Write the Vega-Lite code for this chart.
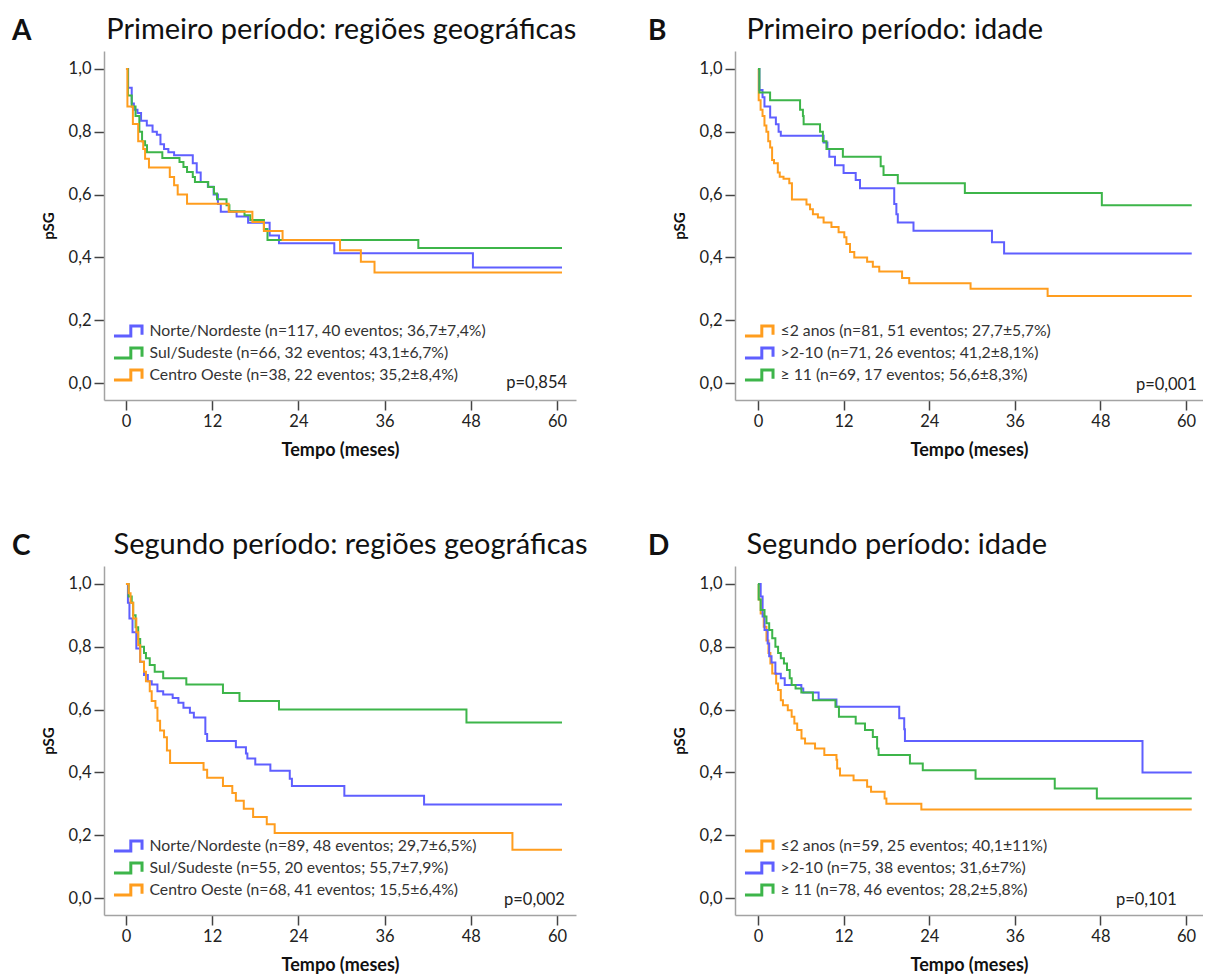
{
  "$schema": "https://vega.github.io/schema/vega-lite/v6.json",
  "padding": {"left": 12, "top": 16, "right": 0, "bottom": 0},
  "autosize": {"type": "pad"},
  "background": "white",
  "datasets": {
    "grupos": [
      {"g": "A1", "label": "Norte/Nordeste (n=117, 40 eventos; 36,7±7,4%)"},
      {"g": "A2", "label": "Sul/Sudeste (n=66, 32 eventos; 43,1±6,7%)"},
      {"g": "A3", "label": "Centro Oeste (n=38, 22 eventos; 35,2±8,4%)"},
      {"g": "B1", "label": "≤2 anos (n=81, 51 eventos; 27,7±5,7%)"},
      {"g": "B2", "label": ">2-10 (n=71, 26 eventos; 41,2±8,1%)"},
      {"g": "B3", "label": "≥ 11 (n=69, 17 eventos; 56,6±8,3%)"},
      {"g": "C1", "label": "Norte/Nordeste (n=89, 48 eventos; 29,7±6,5%)"},
      {"g": "C2", "label": "Sul/Sudeste (n=55, 20 eventos; 55,7±7,9%)"},
      {"g": "C3", "label": "Centro Oeste (n=68, 41 eventos; 15,5±6,4%)"},
      {"g": "D1", "label": "≤2 anos (n=59, 25 eventos; 40,1±11%)"},
      {"g": "D2", "label": ">2-10 (n=75, 38 eventos; 31,6±7%)"},
      {"g": "D3", "label": "≥ 11 (n=78, 46 eventos; 28,2±5,8%)"}
    ],
    "pvalor": [
      {"p": "A", "label": "p=0,854"},
      {"p": "B", "label": "p=0,001"},
      {"p": "C", "label": "p=0,002"},
      {"p": "D", "label": "p=0,101"}
    ],
    "km": [
      {"p":"A","g":"A1","t":0,"s":1},{"p":"A","g":"A1","t":0.3,"s":0.94},{"p":"A","g":"A1","t":0.8,"s":0.89},{"p":"A","g":"A1","t":1.1,"s":0.87},{"p":"A","g":"A1","t":1.6,"s":0.86},{"p":"A","g":"A1","t":2.1,"s":0.835},{"p":"A","g":"A1","t":2.9,"s":0.82},{"p":"A","g":"A1","t":3.7,"s":0.8},{"p":"A","g":"A1","t":4.3,"s":0.79},{"p":"A","g":"A1","t":4.8,"s":0.76},{"p":"A","g":"A1","t":5.3,"s":0.745},{"p":"A","g":"A1","t":5.9,"s":0.735},{"p":"A","g":"A1","t":6.7,"s":0.725},{"p":"A","g":"A1","t":9.3,"s":0.7},{"p":"A","g":"A1","t":9.85,"s":0.67},{"p":"A","g":"A1","t":10.4,"s":0.64},{"p":"A","g":"A1","t":11.4,"s":0.625},{"p":"A","g":"A1","t":12.2,"s":0.6},{"p":"A","g":"A1","t":12.8,"s":0.57},{"p":"A","g":"A1","t":13.2,"s":0.545},{"p":"A","g":"A1","t":15.4,"s":0.53},{"p":"A","g":"A1","t":17.0,"s":0.51},{"p":"A","g":"A1","t":20.0,"s":0.47},{"p":"A","g":"A1","t":21.3,"s":0.445},{"p":"A","g":"A1","t":29.0,"s":0.413},{"p":"A","g":"A1","t":48.3,"s":0.368},{"p":"A","g":"A1","t":60.7,"s":0.368},
      {"p":"A","g":"A2","t":0,"s":1},{"p":"A","g":"A2","t":0.27,"s":0.915},{"p":"A","g":"A2","t":0.8,"s":0.88},{"p":"A","g":"A2","t":1.33,"s":0.85},{"p":"A","g":"A2","t":1.86,"s":0.8},{"p":"A","g":"A2","t":2.24,"s":0.77},{"p":"A","g":"A2","t":2.66,"s":0.757},{"p":"A","g":"A2","t":2.93,"s":0.735},{"p":"A","g":"A2","t":5.06,"s":0.716},{"p":"A","g":"A2","t":7.45,"s":0.704},{"p":"A","g":"A2","t":8.0,"s":0.688},{"p":"A","g":"A2","t":8.5,"s":0.672},{"p":"A","g":"A2","t":9.3,"s":0.656},{"p":"A","g":"A2","t":9.6,"s":0.64},{"p":"A","g":"A2","t":11.45,"s":0.624},{"p":"A","g":"A2","t":12.25,"s":0.603},{"p":"A","g":"A2","t":12.67,"s":0.585},{"p":"A","g":"A2","t":14.0,"s":0.566},{"p":"A","g":"A2","t":14.4,"s":0.547},{"p":"A","g":"A2","t":16.5,"s":0.534},{"p":"A","g":"A2","t":17.3,"s":0.519},{"p":"A","g":"A2","t":19.2,"s":0.49},{"p":"A","g":"A2","t":19.7,"s":0.455},{"p":"A","g":"A2","t":40.7,"s":0.43},{"p":"A","g":"A2","t":60.7,"s":0.43},
      {"p":"A","g":"A3","t":0,"s":1},{"p":"A","g":"A3","t":0.2,"s":0.88},{"p":"A","g":"A3","t":0.96,"s":0.825},{"p":"A","g":"A3","t":1.7,"s":0.77},{"p":"A","g":"A3","t":2.4,"s":0.745},{"p":"A","g":"A3","t":2.66,"s":0.714},{"p":"A","g":"A3","t":3.2,"s":0.686},{"p":"A","g":"A3","t":6.1,"s":0.656},{"p":"A","g":"A3","t":6.7,"s":0.63},{"p":"A","g":"A3","t":7.2,"s":0.6},{"p":"A","g":"A3","t":8.5,"s":0.571},{"p":"A","g":"A3","t":14.3,"s":0.545},{"p":"A","g":"A3","t":17.6,"s":0.513},{"p":"A","g":"A3","t":19.2,"s":0.484},{"p":"A","g":"A3","t":21.8,"s":0.455},{"p":"A","g":"A3","t":29.8,"s":0.423},{"p":"A","g":"A3","t":32.7,"s":0.386},{"p":"A","g":"A3","t":34.6,"s":0.352},{"p":"A","g":"A3","t":60.7,"s":0.352},
      {"p":"B","g":"B1","t":0,"s":1},{"p":"B","g":"B1","t":0.1,"s":0.9},{"p":"B","g":"B1","t":0.37,"s":0.87},{"p":"B","g":"B1","t":0.64,"s":0.85},{"p":"B","g":"B1","t":0.91,"s":0.82},{"p":"B","g":"B1","t":1.18,"s":0.8},{"p":"B","g":"B1","t":1.44,"s":0.77},{"p":"B","g":"B1","t":1.71,"s":0.75},{"p":"B","g":"B1","t":1.98,"s":0.71},{"p":"B","g":"B1","t":2.25,"s":0.7},{"p":"B","g":"B1","t":2.78,"s":0.67},{"p":"B","g":"B1","t":3.05,"s":0.657},{"p":"B","g":"B1","t":3.58,"s":0.65},{"p":"B","g":"B1","t":4.39,"s":0.636},{"p":"B","g":"B1","t":4.76,"s":0.584},{"p":"B","g":"B1","t":6.8,"s":0.568},{"p":"B","g":"B1","t":7.3,"s":0.553},{"p":"B","g":"B1","t":7.7,"s":0.537},{"p":"B","g":"B1","t":8.4,"s":0.527},{"p":"B","g":"B1","t":9.2,"s":0.511},{"p":"B","g":"B1","t":10.3,"s":0.497},{"p":"B","g":"B1","t":11.3,"s":0.48},{"p":"B","g":"B1","t":12.1,"s":0.464},{"p":"B","g":"B1","t":12.4,"s":0.443},{"p":"B","g":"B1","t":12.9,"s":0.417},{"p":"B","g":"B1","t":13.5,"s":0.4},{"p":"B","g":"B1","t":15.3,"s":0.386},{"p":"B","g":"B1","t":16.1,"s":0.37},{"p":"B","g":"B1","t":17.0,"s":0.355},{"p":"B","g":"B1","t":20.2,"s":0.334},{"p":"B","g":"B1","t":21.2,"s":0.318},{"p":"B","g":"B1","t":29.8,"s":0.3},{"p":"B","g":"B1","t":40.6,"s":0.277},{"p":"B","g":"B1","t":60.8,"s":0.277},
      {"p":"B","g":"B2","t":0,"s":1},{"p":"B","g":"B2","t":0.2,"s":0.933},{"p":"B","g":"B2","t":0.64,"s":0.91},{"p":"B","g":"B2","t":0.91,"s":0.88},{"p":"B","g":"B2","t":1.71,"s":0.845},{"p":"B","g":"B2","t":2.51,"s":0.824},{"p":"B","g":"B2","t":2.89,"s":0.8},{"p":"B","g":"B2","t":3.2,"s":0.787},{"p":"B","g":"B2","t":9.2,"s":0.766},{"p":"B","g":"B2","t":9.73,"s":0.745},{"p":"B","g":"B2","t":10.0,"s":0.72},{"p":"B","g":"B2","t":10.8,"s":0.693},{"p":"B","g":"B2","t":12.0,"s":0.669},{"p":"B","g":"B2","t":13.7,"s":0.646},{"p":"B","g":"B2","t":14.3,"s":0.62},{"p":"B","g":"B2","t":19.1,"s":0.57},{"p":"B","g":"B2","t":19.4,"s":0.537},{"p":"B","g":"B2","t":19.6,"s":0.511},{"p":"B","g":"B2","t":21.8,"s":0.485},{"p":"B","g":"B2","t":32.8,"s":0.448},{"p":"B","g":"B2","t":34.5,"s":0.412},{"p":"B","g":"B2","t":60.8,"s":0.412},
      {"p":"B","g":"B3","t":0,"s":1},{"p":"B","g":"B3","t":0.2,"s":0.925},{"p":"B","g":"B3","t":1.7,"s":0.9},{"p":"B","g":"B3","t":5.9,"s":0.87},{"p":"B","g":"B3","t":6.3,"s":0.85},{"p":"B","g":"B3","t":6.4,"s":0.824},{"p":"B","g":"B3","t":8.7,"s":0.8},{"p":"B","g":"B3","t":9.1,"s":0.77},{"p":"B","g":"B3","t":9.6,"s":0.745},{"p":"B","g":"B3","t":11.9,"s":0.72},{"p":"B","g":"B3","t":17.2,"s":0.69},{"p":"B","g":"B3","t":17.6,"s":0.662},{"p":"B","g":"B3","t":19.6,"s":0.636},{"p":"B","g":"B3","t":29.0,"s":0.605},{"p":"B","g":"B3","t":48.2,"s":0.566},{"p":"B","g":"B3","t":60.8,"s":0.566},
      {"p":"C","g":"C1","t":0,"s":1},{"p":"C","g":"C1","t":0.27,"s":0.94},{"p":"C","g":"C1","t":0.48,"s":0.89},{"p":"C","g":"C1","t":0.91,"s":0.846},{"p":"C","g":"C1","t":1.44,"s":0.794},{"p":"C","g":"C1","t":1.98,"s":0.752},{"p":"C","g":"C1","t":2.51,"s":0.71},{"p":"C","g":"C1","t":3.04,"s":0.69},{"p":"C","g":"C1","t":3.58,"s":0.68},{"p":"C","g":"C1","t":4.38,"s":0.658},{"p":"C","g":"C1","t":5.18,"s":0.648},{"p":"C","g":"C1","t":6.5,"s":0.637},{"p":"C","g":"C1","t":7.3,"s":0.622},{"p":"C","g":"C1","t":8.0,"s":0.606},{"p":"C","g":"C1","t":8.9,"s":0.59},{"p":"C","g":"C1","t":9.45,"s":0.575},{"p":"C","g":"C1","t":11.05,"s":0.522},{"p":"C","g":"C1","t":11.3,"s":0.5},{"p":"C","g":"C1","t":15.3,"s":0.48},{"p":"C","g":"C1","t":16.7,"s":0.46},{"p":"C","g":"C1","t":16.9,"s":0.444},{"p":"C","g":"C1","t":18.0,"s":0.425},{"p":"C","g":"C1","t":20.1,"s":0.405},{"p":"C","g":"C1","t":22.8,"s":0.38},{"p":"C","g":"C1","t":23.1,"s":0.357},{"p":"C","g":"C1","t":30.4,"s":0.326},{"p":"C","g":"C1","t":41.5,"s":0.298},{"p":"C","g":"C1","t":60.7,"s":0.298},
      {"p":"C","g":"C2","t":0,"s":1},{"p":"C","g":"C2","t":0.37,"s":0.96},{"p":"C","g":"C2","t":0.8,"s":0.94},{"p":"C","g":"C2","t":1.0,"s":0.9},{"p":"C","g":"C2","t":1.34,"s":0.862},{"p":"C","g":"C2","t":1.7,"s":0.825},{"p":"C","g":"C2","t":1.98,"s":0.8},{"p":"C","g":"C2","t":2.51,"s":0.78},{"p":"C","g":"C2","t":2.78,"s":0.763},{"p":"C","g":"C2","t":3.31,"s":0.742},{"p":"C","g":"C2","t":4.0,"s":0.72},{"p":"C","g":"C2","t":5.18,"s":0.7},{"p":"C","g":"C2","t":8.4,"s":0.68},{"p":"C","g":"C2","t":13.5,"s":0.653},{"p":"C","g":"C2","t":15.8,"s":0.627},{"p":"C","g":"C2","t":21.3,"s":0.6},{"p":"C","g":"C2","t":47.4,"s":0.559},{"p":"C","g":"C2","t":60.7,"s":0.559},
      {"p":"C","g":"C3","t":0,"s":1},{"p":"C","g":"C3","t":0.37,"s":0.97},{"p":"C","g":"C3","t":0.64,"s":0.94},{"p":"C","g":"C3","t":1.0,"s":0.89},{"p":"C","g":"C3","t":1.44,"s":0.846},{"p":"C","g":"C3","t":1.7,"s":0.805},{"p":"C","g":"C3","t":1.98,"s":0.752},{"p":"C","g":"C3","t":2.51,"s":0.72},{"p":"C","g":"C3","t":2.78,"s":0.69},{"p":"C","g":"C3","t":3.31,"s":0.658},{"p":"C","g":"C3","t":3.58,"s":0.627},{"p":"C","g":"C3","t":4.1,"s":0.606},{"p":"C","g":"C3","t":4.38,"s":0.564},{"p":"C","g":"C3","t":4.75,"s":0.533},{"p":"C","g":"C3","t":5.3,"s":0.512},{"p":"C","g":"C3","t":5.7,"s":0.47},{"p":"C","g":"C3","t":6.14,"s":0.43},{"p":"C","g":"C3","t":10.8,"s":0.408},{"p":"C","g":"C3","t":11.3,"s":0.383},{"p":"C","g":"C3","t":13.5,"s":0.357},{"p":"C","g":"C3","t":14.8,"s":0.334},{"p":"C","g":"C3","t":15.3,"s":0.31},{"p":"C","g":"C3","t":16.4,"s":0.284},{"p":"C","g":"C3","t":17.7,"s":0.258},{"p":"C","g":"C3","t":19.6,"s":0.235},{"p":"C","g":"C3","t":20.7,"s":0.207},{"p":"C","g":"C3","t":53.8,"s":0.154},{"p":"C","g":"C3","t":60.7,"s":0.154},
      {"p":"D","g":"D1","t":0,"s":1},{"p":"D","g":"D1","t":0.1,"s":0.95},{"p":"D","g":"D1","t":0.38,"s":0.906},{"p":"D","g":"D1","t":0.81,"s":0.864},{"p":"D","g":"D1","t":1.19,"s":0.82},{"p":"D","g":"D1","t":1.47,"s":0.78},{"p":"D","g":"D1","t":1.74,"s":0.747},{"p":"D","g":"D1","t":2.0,"s":0.715},{"p":"D","g":"D1","t":2.55,"s":0.683},{"p":"D","g":"D1","t":2.82,"s":0.662},{"p":"D","g":"D1","t":3.2,"s":0.63},{"p":"D","g":"D1","t":3.5,"s":0.614},{"p":"D","g":"D1","t":4.18,"s":0.598},{"p":"D","g":"D1","t":4.72,"s":0.577},{"p":"D","g":"D1","t":5.1,"s":0.556},{"p":"D","g":"D1","t":5.5,"s":0.535},{"p":"D","g":"D1","t":6.1,"s":0.508},{"p":"D","g":"D1","t":6.6,"s":0.492},{"p":"D","g":"D1","t":8.0,"s":0.476},{"p":"D","g":"D1","t":9.3,"s":0.455},{"p":"D","g":"D1","t":11.0,"s":0.44},{"p":"D","g":"D1","t":11.1,"s":0.412},{"p":"D","g":"D1","t":11.5,"s":0.39},{"p":"D","g":"D1","t":13.4,"s":0.375},{"p":"D","g":"D1","t":15.3,"s":0.354},{"p":"D","g":"D1","t":15.85,"s":0.338},{"p":"D","g":"D1","t":17.75,"s":0.317},{"p":"D","g":"D1","t":18.0,"s":0.3},{"p":"D","g":"D1","t":22.9,"s":0.282},{"p":"D","g":"D1","t":60.8,"s":0.282},
      {"p":"D","g":"D2","t":0,"s":1},{"p":"D","g":"D2","t":0.38,"s":0.96},{"p":"D","g":"D2","t":0.65,"s":0.896},{"p":"D","g":"D2","t":0.92,"s":0.853},{"p":"D","g":"D2","t":1.36,"s":0.81},{"p":"D","g":"D2","t":1.57,"s":0.77},{"p":"D","g":"D2","t":1.9,"s":0.75},{"p":"D","g":"D2","t":2.44,"s":0.714},{"p":"D","g":"D2","t":3.2,"s":0.7},{"p":"D","g":"D2","t":3.75,"s":0.678},{"p":"D","g":"D2","t":6.08,"s":0.667},{"p":"D","g":"D2","t":6.35,"s":0.654},{"p":"D","g":"D2","t":8.5,"s":0.632},{"p":"D","g":"D2","t":11.0,"s":0.609},{"p":"D","g":"D2","t":19.8,"s":0.572},{"p":"D","g":"D2","t":20.5,"s":0.537},{"p":"D","g":"D2","t":20.6,"s":0.5},{"p":"D","g":"D2","t":53.9,"s":0.4},{"p":"D","g":"D2","t":60.8,"s":0.4},
      {"p":"D","g":"D3","t":0,"s":1},{"p":"D","g":"D3","t":0.1,"s":0.95},{"p":"D","g":"D3","t":0.38,"s":0.917},{"p":"D","g":"D3","t":0.92,"s":0.896},{"p":"D","g":"D3","t":1.19,"s":0.875},{"p":"D","g":"D3","t":1.57,"s":0.853},{"p":"D","g":"D3","t":2.0,"s":0.827},{"p":"D","g":"D3","t":2.44,"s":0.8},{"p":"D","g":"D3","t":2.82,"s":0.78},{"p":"D","g":"D3","t":3.2,"s":0.763},{"p":"D","g":"D3","t":3.64,"s":0.747},{"p":"D","g":"D3","t":4.07,"s":0.726},{"p":"D","g":"D3","t":4.45,"s":0.7},{"p":"D","g":"D3","t":4.72,"s":0.678},{"p":"D","g":"D3","t":5.27,"s":0.667},{"p":"D","g":"D3","t":6.08,"s":0.654},{"p":"D","g":"D3","t":7.7,"s":0.63},{"p":"D","g":"D3","t":10.86,"s":0.609},{"p":"D","g":"D3","t":11.35,"s":0.577},{"p":"D","g":"D3","t":13.7,"s":0.556},{"p":"D","g":"D3","t":15.0,"s":0.535},{"p":"D","g":"D3","t":16.1,"s":0.513},{"p":"D","g":"D3","t":16.7,"s":0.476},{"p":"D","g":"D3","t":16.9,"s":0.455},{"p":"D","g":"D3","t":21.3,"s":0.428},{"p":"D","g":"D3","t":23.1,"s":0.407},{"p":"D","g":"D3","t":30.5,"s":0.38},{"p":"D","g":"D3","t":41.6,"s":0.349},{"p":"D","g":"D3","t":47.5,"s":0.317},{"p":"D","g":"D3","t":60.8,"s":0.317}
    ]
  },
  "config": {
    "font": "Lato",
    "view": {"stroke": null},
    "axis": {"grid": false, "domainColor": "#a3a3a3", "domainWidth": 1.5, "tickColor": "#444444", "tickWidth": 1.5, "labelFont": "Lato", "labelFontSize": 16.5, "labelColor": "#222222", "titleFont": "Lato", "titleFontWeight": "bold", "titleColor": "#111111"},
    "axisX": {"titleFontSize": 18},
    "axisY": {"titleFontSize": 15},
    "legend": {"orient": "bottom-left", "offset": 13.5, "padding": 0, "labelFont": "Lato", "labelFontSize": 15.75, "labelColor": "#333333", "labelLimit": 600, "labelOffset": 11.5, "rowPadding": -8, "symbolType": "M-1.65,0.59 L0.33,0.59 L0.33,-0.59 L1.65,-0.59 L1.65,0.45", "symbolSize": 289, "symbolStrokeWidth": 3, "symbolFillColor": "transparent"},
    "title": {"anchor": "start", "frame": "group", "font": "Lato", "fontSize": 28, "fontWeight": "bold", "color": "#111111", "subtitleFont": "Lato", "subtitleFontSize": 29, "subtitleFontWeight": "normal", "subtitleColor": "#111111", "subtitlePadding": -30, "offset": 3}
  },
  "columns": 2,
  "bounds": "flush",
  "spacing": {"row": 166, "column": 159},
  "resolve": {"scale": {"color": "independent"}, "legend": {"color": "independent"}},
  "concat": [
    {
      "width": 472, "height": 349,
      "title": {"text": "A", "dx": -92, "subtitle": "\u200b\u2003\u2003\u2003\u2003\u2009\u2009Primeiro período: regiões geográficas"},
      "layer": [
        {"data": {"name": "km"}, "transform": [{"filter": "datum.p == 'A'"}, {"lookup": "g", "from": {"data": {"name": "grupos"}, "key": "g", "fields": ["label"]}}],
         "mark": {"type": "line", "interpolate": "step-after", "strokeWidth": 2},
         "encoding": {
           "x": {"field": "t", "type": "quantitative", "scale": {"domain": [-3.06, 62.65], "nice": false, "zero": false}, "axis": {"values": [0, 12, 24, 36, 48, 60], "tickSize": 10, "labelPadding": 3, "title": "Tempo (meses)", "titlePadding": 12}},
           "y": {"field": "s", "type": "quantitative", "scale": {"domain": [-0.054, 1.057], "nice": false, "zero": false}, "axis": {"values": [0, 0.2, 0.4, 0.6, 0.8, 1], "tickSize": 10, "labelPadding": 3, "labelExpr": "replace(format(datum.value, '.1f'), '.', ',')", "title": "pSG", "titlePadding": 12}},
           "color": {"field": "label", "type": "nominal", "scale": {"domain": ["Norte/Nordeste (n=117, 40 eventos; 36,7±7,4%)", "Sul/Sudeste (n=66, 32 eventos; 43,1±6,7%)", "Centro Oeste (n=38, 22 eventos; 35,2±8,4%)"], "range": ["#5f5fff", "#3db54a", "#ff9d1e"]},
             "legend": {"title": null, "symbolStrokeWidth": 3}}
         }},
        {"data": {"name": "pvalor"}, "transform": [{"filter": "datum.p == 'A'"}],
         "mark": {"type": "text", "align": "right", "baseline": "middle", "fontSize": 16.5, "color": "#222222"},
         "encoding": {"x": {"datum": 61.4}, "y": {"datum": 0.0}, "text": {"field": "label"}}}
      ]
    },
    {
      "width": 468, "height": 349,
      "title": {"text": "B", "dx": -87, "subtitle": "\u200b\u2003\u2003\u2003\u2003\u2004\u200aPrimeiro período: idade"},
      "layer": [
        {"data": {"name": "km"}, "transform": [{"filter": "datum.p == 'B'"}, {"lookup": "g", "from": {"data": {"name": "grupos"}, "key": "g", "fields": ["label"]}}],
         "mark": {"type": "line", "interpolate": "step-after", "strokeWidth": 2},
         "encoding": {
           "x": {"field": "t", "type": "quantitative", "scale": {"domain": [-3.22, 62.38], "nice": false, "zero": false}, "axis": {"values": [0, 12, 24, 36, 48, 60], "tickSize": 10, "labelPadding": 3, "title": "Tempo (meses)", "titlePadding": 12}},
           "y": {"field": "s", "type": "quantitative", "scale": {"domain": [-0.054, 1.057], "nice": false, "zero": false}, "axis": {"values": [0, 0.2, 0.4, 0.6, 0.8, 1], "tickSize": 10, "labelPadding": 3, "labelExpr": "replace(format(datum.value, '.1f'), '.', ',')", "title": "pSG", "titlePadding": 12}},
           "color": {"field": "label", "type": "nominal", "scale": {"domain": ["≤2 anos (n=81, 51 eventos; 27,7±5,7%)", ">2-10 (n=71, 26 eventos; 41,2±8,1%)", "≥ 11 (n=69, 17 eventos; 56,6±8,3%)"], "range": ["#ff9d1e", "#5f5fff", "#3db54a"]},
             "legend": {"title": null, "symbolStrokeWidth": 3}}
         }},
        {"data": {"name": "pvalor"}, "transform": [{"filter": "datum.p == 'B'"}],
         "mark": {"type": "text", "align": "right", "baseline": "middle", "fontSize": 16.5, "color": "#222222"},
         "encoding": {"x": {"datum": 61.5}, "y": {"datum": -0.005}, "text": {"field": "label"}}}
      ]
    },
    {
      "width": 472, "height": 349,
      "title": {"text": "C", "dx": -92, "subtitle": "\u200b\u2003\u2003\u2003\u2003\u2002Segundo período: regiões geográficas"},
      "layer": [
        {"data": {"name": "km"}, "transform": [{"filter": "datum.p == 'C'"}, {"lookup": "g", "from": {"data": {"name": "grupos"}, "key": "g", "fields": ["label"]}}],
         "mark": {"type": "line", "interpolate": "step-after", "strokeWidth": 2},
         "encoding": {
           "x": {"field": "t", "type": "quantitative", "scale": {"domain": [-3.06, 62.65], "nice": false, "zero": false}, "axis": {"values": [0, 12, 24, 36, 48, 60], "tickSize": 10, "labelPadding": 3, "title": "Tempo (meses)", "titlePadding": 12}},
           "y": {"field": "s", "type": "quantitative", "scale": {"domain": [-0.054, 1.057], "nice": false, "zero": false}, "axis": {"values": [0, 0.2, 0.4, 0.6, 0.8, 1], "tickSize": 10, "labelPadding": 3, "labelExpr": "replace(format(datum.value, '.1f'), '.', ',')", "title": "pSG", "titlePadding": 12}},
           "color": {"field": "label", "type": "nominal", "scale": {"domain": ["Norte/Nordeste (n=89, 48 eventos; 29,7±6,5%)", "Sul/Sudeste (n=55, 20 eventos; 55,7±7,9%)", "Centro Oeste (n=68, 41 eventos; 15,5±6,4%)"], "range": ["#5f5fff", "#3db54a", "#ff9d1e"]},
             "legend": {"title": null, "symbolStrokeWidth": 3}}
         }},
        {"data": {"name": "pvalor"}, "transform": [{"filter": "datum.p == 'C'"}],
         "mark": {"type": "text", "align": "right", "baseline": "middle", "fontSize": 16.5, "color": "#222222"},
         "encoding": {"x": {"datum": 61.1}, "y": {"datum": -0.005}, "text": {"field": "label"}}}
      ]
    },
    {
      "width": 468, "height": 349,
      "title": {"text": "D", "dx": -87, "subtitle": "\u200b\u2003\u2003\u2003\u2003\u2004\u200aSegundo período: idade"},
      "layer": [
        {"data": {"name": "km"}, "transform": [{"filter": "datum.p == 'D'"}, {"lookup": "g", "from": {"data": {"name": "grupos"}, "key": "g", "fields": ["label"]}}],
         "mark": {"type": "line", "interpolate": "step-after", "strokeWidth": 2},
         "encoding": {
           "x": {"field": "t", "type": "quantitative", "scale": {"domain": [-3.22, 62.38], "nice": false, "zero": false}, "axis": {"values": [0, 12, 24, 36, 48, 60], "tickSize": 10, "labelPadding": 3, "title": "Tempo (meses)", "titlePadding": 12}},
           "y": {"field": "s", "type": "quantitative", "scale": {"domain": [-0.054, 1.057], "nice": false, "zero": false}, "axis": {"values": [0, 0.2, 0.4, 0.6, 0.8, 1], "tickSize": 10, "labelPadding": 3, "labelExpr": "replace(format(datum.value, '.1f'), '.', ',')", "title": "pSG", "titlePadding": 12}},
           "color": {"field": "label", "type": "nominal", "scale": {"domain": ["≤2 anos (n=59, 25 eventos; 40,1±11%)", ">2-10 (n=75, 38 eventos; 31,6±7%)", "≥ 11 (n=78, 46 eventos; 28,2±5,8%)"], "range": ["#ff9d1e", "#5f5fff", "#3db54a"]},
             "legend": {"title": null, "symbolStrokeWidth": 3}}
         }},
        {"data": {"name": "pvalor"}, "transform": [{"filter": "datum.p == 'D'"}],
         "mark": {"type": "text", "align": "right", "baseline": "middle", "fontSize": 16.5, "color": "#222222"},
         "encoding": {"x": {"datum": 58.7}, "y": {"datum": -0.005}, "text": {"field": "label"}}}
      ]
    }
  ]
}
